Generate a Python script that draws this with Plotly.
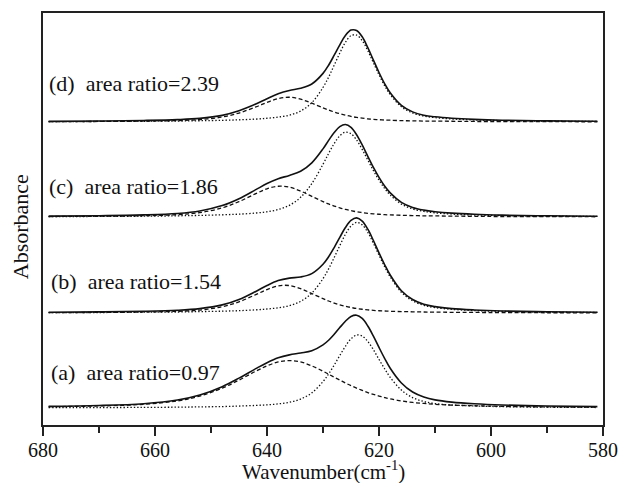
import plotly.graph_objects as go

# Wavenumber sample positions (cm-1)
WN = [679, 670, 662, 656, 652, 648, 645, 642, 640, 638, 636, 634, 632, 630, 629, 628, 627,
      626, 625, 624, 623, 622, 621, 620, 619, 618, 616, 614, 612, 610, 607, 603, 598, 590, 581]

# (d) area ratio = 2.39
D_DASH = [0.003, 0.005, 0.008, 0.014, 0.023, 0.048, 0.087, 0.146, 0.190, 0.227, 0.240, 0.221, 0.182,
          0.137, 0.116, 0.097, 0.080, 0.066, 0.054, 0.044, 0.037, 0.030, 0.026, 0.022, 0.019, 0.017,
          0.013, 0.011, 0.009, 0.008, 0.007, 0.005, 0.004, 0.003, 0.002]
D_DOT = [0.003, 0.005, 0.007, 0.009, 0.012, 0.016, 0.021, 0.028, 0.036, 0.047, 0.066, 0.106, 0.187,
         0.335, 0.435, 0.551, 0.669, 0.773, 0.838, 0.844, 0.790, 0.692, 0.575, 0.458, 0.353, 0.266,
         0.148, 0.087, 0.057, 0.042, 0.029, 0.020, 0.013, 0.008, 0.005]
D_SUM = [0.006, 0.009, 0.015, 0.023, 0.035, 0.064, 0.108, 0.174, 0.226, 0.274, 0.306, 0.327, 0.369,
         0.472, 0.551, 0.648, 0.749, 0.839, 0.892, 0.888, 0.827, 0.722, 0.601, 0.480, 0.372, 0.283,
         0.161, 0.098, 0.066, 0.050, 0.036, 0.025, 0.017, 0.011, 0.007]

# (c) area ratio = 1.86
C_DASH = [0.005, 0.008, 0.013, 0.023, 0.043, 0.089, 0.150, 0.227, 0.274, 0.299, 0.290, 0.252, 0.201,
          0.150, 0.127, 0.107, 0.089, 0.074, 0.062, 0.051, 0.043, 0.036, 0.031, 0.027, 0.023, 0.021,
          0.017, 0.014, 0.012, 0.011, 0.009, 0.007, 0.005, 0.004, 0.003]
C_DOT = [0.004, 0.006, 0.008, 0.012, 0.016, 0.022, 0.028, 0.039, 0.051, 0.073, 0.114, 0.192, 0.325,
         0.512, 0.617, 0.714, 0.789, 0.824, 0.809, 0.748, 0.657, 0.554, 0.451, 0.358, 0.278, 0.214,
         0.126, 0.079, 0.055, 0.041, 0.029, 0.020, 0.014, 0.009, 0.006]
C_SUM = [0.009, 0.013, 0.021, 0.035, 0.059, 0.111, 0.178, 0.266, 0.325, 0.372, 0.404, 0.444, 0.526,
         0.662, 0.744, 0.821, 0.878, 0.898, 0.871, 0.799, 0.700, 0.590, 0.482, 0.385, 0.301, 0.235,
         0.143, 0.093, 0.067, 0.052, 0.038, 0.027, 0.019, 0.012, 0.008]

# (b) area ratio = 1.54
B_DASH = [0.004, 0.006, 0.010, 0.017, 0.029, 0.061, 0.109, 0.179, 0.228, 0.264, 0.267, 0.237, 0.189,
          0.140, 0.117, 0.097, 0.080, 0.066, 0.054, 0.044, 0.037, 0.031, 0.026, 0.022, 0.020, 0.017,
          0.014, 0.012, 0.010, 0.009, 0.007, 0.006, 0.004, 0.003, 0.002]
B_DOT = [0.004, 0.005, 0.008, 0.010, 0.014, 0.018, 0.023, 0.031, 0.039, 0.051, 0.072, 0.113, 0.194,
         0.334, 0.429, 0.539, 0.655, 0.764, 0.845, 0.880, 0.856, 0.783, 0.678, 0.562, 0.451, 0.352,
         0.202, 0.119, 0.075, 0.053, 0.036, 0.024, 0.016, 0.009, 0.006]
B_SUM = [0.007, 0.011, 0.017, 0.027, 0.043, 0.079, 0.132, 0.210, 0.267, 0.315, 0.339, 0.350, 0.383,
         0.474, 0.546, 0.636, 0.735, 0.830, 0.899, 0.924, 0.893, 0.814, 0.704, 0.584, 0.471, 0.369,
         0.216, 0.131, 0.085, 0.062, 0.043, 0.030, 0.020, 0.012, 0.008]

# (a) area ratio = 0.97
A_DASH = [0.013, 0.020, 0.036, 0.069, 0.116, 0.193, 0.271, 0.357, 0.409, 0.447, 0.460, 0.447, 0.409,
          0.357, 0.328, 0.299, 0.271, 0.243, 0.217, 0.193, 0.171, 0.150, 0.132, 0.116, 0.101, 0.088,
          0.069, 0.054, 0.044, 0.036, 0.028, 0.022, 0.016, 0.011, 0.008]
A_DOT = [0.003, 0.004, 0.006, 0.008, 0.011, 0.014, 0.019, 0.025, 0.031, 0.040, 0.056, 0.087, 0.147,
         0.256, 0.330, 0.417, 0.510, 0.599, 0.672, 0.708, 0.699, 0.646, 0.566, 0.472, 0.381, 0.298,
         0.174, 0.101, 0.063, 0.043, 0.029, 0.020, 0.013, 0.008, 0.005]
A_SUM = [0.016, 0.024, 0.042, 0.077, 0.126, 0.207, 0.290, 0.382, 0.440, 0.487, 0.516, 0.534, 0.556,
         0.613, 0.658, 0.716, 0.781, 0.842, 0.889, 0.901, 0.870, 0.796, 0.698, 0.588, 0.482, 0.386,
         0.243, 0.155, 0.107, 0.079, 0.057, 0.041, 0.029, 0.019, 0.013]

LABELS = ["(a)", "(b)", "(c)", "(d)"]
RATIOS = ["0.97", "1.54", "1.86", "2.39"]
OFFSETS = [0.0, 0.922, 1.854, 2.777]
X_TICKS = [680, 660, 640, 620, 600, 580]

SPECTRA = [(A_SUM, A_DASH, A_DOT), (B_SUM, B_DASH, B_DOT),
           (C_SUM, C_DASH, C_DOT), (D_SUM, D_DASH, D_DOT)]

FONT = "Liberation Serif"
INK = "#111111"

fig = go.Figure()
for (tot, dash, dot), off in zip(SPECTRA, OFFSETS):
    fig.add_trace(go.Scatter(x=WN, y=[v + off for v in dash], mode="lines",
                             line=dict(color=INK, width=1.3, dash="4px,2.5px", shape="spline"),
                             showlegend=False, hoverinfo="skip"))
    fig.add_trace(go.Scatter(x=WN, y=[v + off for v in dot], mode="lines",
                             line=dict(color=INK, width=1.3, dash="1.4px,2px", shape="spline"),
                             showlegend=False, hoverinfo="skip"))
    fig.add_trace(go.Scatter(x=WN, y=[v + off for v in tot], mode="lines",
                             line=dict(color=INK, width=1.6, shape="spline"),
                             showlegend=False, hoverinfo="skip"))

# curve labels
LABEL_Y = [0.345, 1.232, 2.155, 3.146]
LABEL_X = [678.9, 678.9, 679.2, 679.2]
for lab, r, lx, ly in zip(LABELS, RATIOS, LABEL_X, LABEL_Y):
    fig.add_annotation(x=lx, y=ly, xref="x", yref="y", text=f"{lab}\u00a0\u00a0area ratio={r}",
                       showarrow=False, xanchor="left", yanchor="middle",
                       font=dict(family=FONT, size=22, color=INK))

fig.add_annotation(x=0, y=0.48, xref="paper", yref="paper", text="Absorbance", textangle=-90,
                   showarrow=False, xanchor="center", yanchor="middle", xshift=-23,
                   font=dict(family=FONT, size=22, color=INK))
fig.add_annotation(x=0.5, y=0, xref="paper", yref="paper", text="Wavenumber(cm<sup>-1</sup>)",
                   showarrow=False, xanchor="center", yanchor="middle", yshift=-45,
                   font=dict(family=FONT, size=21, color=INK))

fig.update_layout(
    width=620, height=483,
    margin=dict(l=43, r=17, t=13, b=58, autoexpand=False),
    paper_bgcolor="white", plot_bgcolor="white",
    xaxis=dict(range=[680, 580], tickvals=X_TICKS, ticktext=[str(t) for t in X_TICKS],
               ticks="outside", ticklen=9, tickwidth=1.5, tickcolor="#222",
               minor=dict(ticks="outside", ticklen=6, tickwidth=1.5, dtick=10, tickcolor="#222"),
               showline=True, linewidth=1.5, linecolor="#222", mirror=True,
               showgrid=False, zeroline=False, automargin=False, ticklabelstandoff=-3,
               tickfont=dict(family=FONT, size=20, color=INK)),
    yaxis=dict(range=[-0.165, 3.835], showticklabels=False, ticks="",
               showline=True, linewidth=1.5, linecolor="#222", mirror=True,
               showgrid=False, zeroline=False, automargin=False),
)

fig.write_html("out.html")
